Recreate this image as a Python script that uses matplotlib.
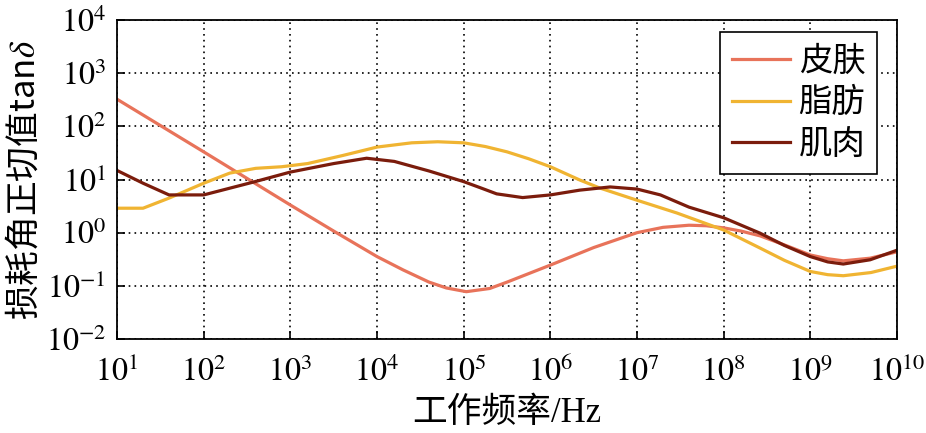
import numpy as np
import matplotlib
matplotlib.use("Agg")
import matplotlib.pyplot as plt

plt.rcParams['mathtext.fontset'] = 'stix'
plt.rcParams['font.family'] = ['Liberation Serif', 'Noto Sans CJK SC', 'DejaVu Sans']

# log10(frequency / Hz) and log10(tan delta)
skin_logf = [1.0, 2.0, 3.0, 3.5, 4.0, 4.3, 4.6, 4.8, 5.03, 5.3, 5.5, 5.75, 6.0, 6.5, 7.0, 7.3, 7.6, 7.8, 8.0, 8.2, 8.42, 8.7, 9.0, 9.2, 9.38, 9.69, 10.0]
skin_logv = [2.51, 1.52, 0.52, 0.03, -0.45, -0.70, -0.93, -1.04, -1.11, -1.05, -0.93, -0.77, -0.61, -0.28, 0.0, 0.10, 0.14, 0.13, 0.09, 0.03, -0.06, -0.23, -0.42, -0.49, -0.53, -0.48, -0.36]

fat_logf = [1.0, 1.3, 1.6, 2.0, 2.3, 2.6, 2.9, 3.2, 3.6, 4.0, 4.4, 4.7, 5.0, 5.25, 5.5, 5.75, 6.0, 6.34, 6.57, 7.0, 7.46, 8.0, 8.42, 8.7, 9.0, 9.2, 9.38, 9.7, 10.0]
fat_logv = [0.46, 0.46, 0.65, 0.93, 1.12, 1.21, 1.24, 1.30, 1.45, 1.61, 1.69, 1.71, 1.69, 1.62, 1.52, 1.39, 1.24, 0.99, 0.84, 0.61, 0.37, 0.05, -0.29, -0.52, -0.73, -0.79, -0.81, -0.75, -0.63]

muscle_logf = [1.0, 1.3, 1.6, 2.0, 2.57, 3.0, 3.5, 3.88, 4.2, 4.6, 5.0, 5.2, 5.38, 5.68, 6.0, 6.34, 6.69, 7.0, 7.27, 7.6, 8.0, 8.42, 8.7, 9.0, 9.2, 9.38, 9.69, 10.0]
muscle_logv = [1.17, 0.93, 0.71, 0.71, 0.95, 1.14, 1.30, 1.40, 1.34, 1.16, 0.96, 0.84, 0.73, 0.66, 0.71, 0.80, 0.86, 0.82, 0.71, 0.48, 0.28, -0.01, -0.24, -0.45, -0.55, -0.59, -0.51, -0.33]

labels = ['皮肤', '脂肪', '肌肉']
colors = ['#E8735A', '#F0B432', '#7B1C0C']

fig = plt.figure(figsize=(9.26, 4.33), dpi=100)
ax = fig.add_axes([0.1264, 0.2171, 0.8423, 0.7367])

series = [(skin_logf, skin_logv), (fat_logf, fat_logv), (muscle_logf, muscle_logv)]
for (lf, lv), lab, c in zip(series, labels, colors):
    ax.plot(10 ** np.array(lf), 10 ** np.array(lv), color=c, lw=2.3, label=lab)

ax.set_xscale('log')
ax.set_yscale('log')
ax.set_xlim(1e1, 1e10)
ax.set_ylim(1e-2, 1e4)
ax.set_xticks([10.0 ** k for k in range(1, 11)])
ax.set_yticks([10.0 ** k for k in range(-2, 5)])
ax.set_xticklabels([r'$10^{%d}$' % k for k in range(1, 11)])
ax.set_yticklabels([r'$10^{%d}$' % k for k in range(-2, 5)])
ax.minorticks_off()
ax.tick_params(direction='in', length=6, width=1.2, labelsize=23, pad=8)
ax.tick_params(axis='x', pad=13)
ax.grid(True, which='major', color='black', linestyle=(0, (1, 2.5)), linewidth=1.2)
for s in ax.spines.values():
    s.set_linewidth(1.3)

ax.set_xlabel('工作频率/Hz', fontsize=25, family=['Liberation Serif', 'Noto Sans CJK SC'], labelpad=6)
ax.set_ylabel('损耗角正切值tan$\\delta$', fontsize=25, family=['Noto Sans CJK SC', 'Liberation Serif'], labelpad=2)

leg = ax.legend(loc='upper right', bbox_to_anchor=(0.9744, 0.9624), borderaxespad=0,
                prop={'family': ['Noto Sans CJK SC'], 'size': 24},
                frameon=True, fancybox=False, edgecolor='black', framealpha=1,
                handlelength=1.75, handletextpad=0.25, labelspacing=0.2, borderpad=0.35)
leg.get_frame().set_linewidth(1.2)

fig.savefig('out.png', dpi=100)
